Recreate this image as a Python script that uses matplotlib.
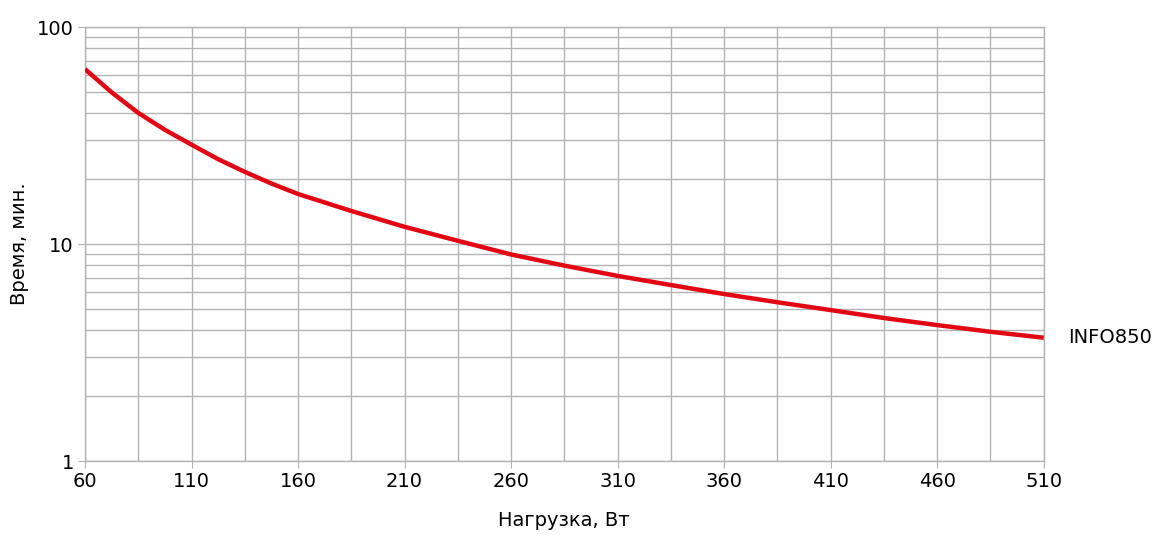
import numpy as np
import matplotlib.pyplot as plt
from matplotlib.ticker import FixedLocator, NullFormatter, LogLocator

# load, W
load = [60, 72.5, 85, 97.5, 110, 122.5, 135, 147.5, 160, 185, 210, 235, 260, 285,
        310, 335, 360, 385, 410, 435, 460, 485, 510]
# runtime, min
runtime = [64.0, 50.0, 40.2, 33.6, 28.7, 24.6, 21.5, 19.0, 17.0, 14.2, 12.0, 10.35, 8.95, 7.95,
           7.13, 6.47, 5.88, 5.39, 4.96, 4.56, 4.23, 3.94, 3.70]
series_name = "INFO850"
xticks = [60, 110, 160, 210, 260, 310, 360, 410, 460, 510]
xgrid = list(range(60, 511, 25))

fig = plt.figure(figsize=(11.61, 5.35), dpi=100)
ax = fig.add_axes([0.0732, 0.1383, 0.8258, 0.8112])

grid_c = '#b3b3b3'
ax.set_yscale('log')
ax.set_xlim(60, 510)
ax.set_ylim(1, 100)

ax.xaxis.set_major_locator(FixedLocator(xticks))
ax.xaxis.set_minor_locator(FixedLocator(xgrid))
ax.yaxis.set_major_locator(FixedLocator([1, 10, 100]))
ax.yaxis.set_major_formatter(plt.FuncFormatter(lambda v, p: '%d' % v))
ax.yaxis.set_minor_locator(LogLocator(base=10, subs=np.arange(2, 10)))
ax.yaxis.set_minor_formatter(NullFormatter())

ax.grid(True, which='both', color=grid_c, linewidth=1.0)
ax.set_axisbelow(True)
for s in ax.spines.values():
    s.set_color(grid_c)
    s.set_linewidth(1.0)

ax.tick_params(which='major', length=5, color=grid_c, labelsize=14, pad=3)
ax.tick_params(which='minor', length=0)

ax.plot(load, runtime, color='#e30613', linewidth=3.2, solid_capstyle='butt',
        solid_joinstyle='round', zorder=3)
ax.text(1.0 + 24 / 959, np.log10(runtime[-1]) / 2, series_name, transform=ax.transAxes,
        fontsize=14, va='center', ha='left')

ax.set_xlabel('Нагрузка, Вт', fontsize=14, labelpad=14)
ax.set_ylabel('Время, мин.', fontsize=14, labelpad=6)

fig.savefig('out.png', dpi=100)
